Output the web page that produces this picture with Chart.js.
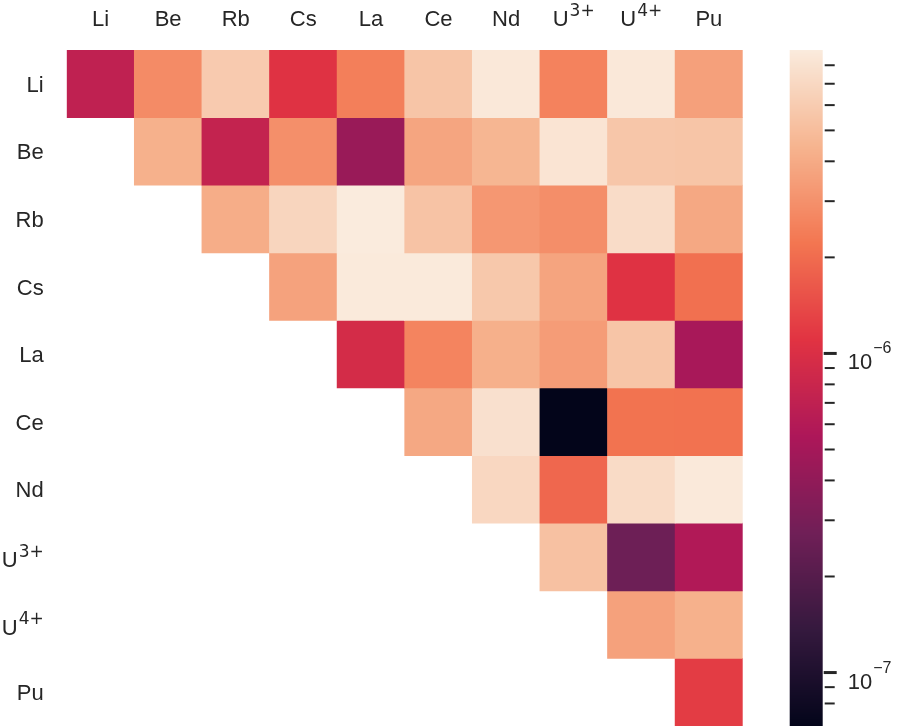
<!DOCTYPE html>
<html>
<head>
<meta charset="utf-8">
<script src="https://cdn.jsdelivr.net/npm/chart.js@4"></script>
<style>
  html, body { margin: 0; padding: 0; background: #fff; }
  #wrap { width: 897px; height: 726px; }
</style>
</head>
<body>
<div id="wrap"><canvas id="heat"></canvas></div>
<script>
// labels: base text + superscript part
const colLabels = ['Li', 'Be', 'Rb', 'Cs', 'La', 'Ce', 'Nd', 'U', 'U', 'Pu'];
const colSups = ['', '', '', '', '', '', '', '3+', '4+', ''];
const rowLabels = ['Li', 'Be', 'Rb', 'Cs', 'La', 'Ce', 'Nd', 'U', 'U', 'Pu'];
const rowSups = ['', '', '', '', '', '', '', '3+', '4+', ''];

// upper triangle, every row starts on the diagonal
const rowLi = [7.0e-7, 2.8e-6, 5.9e-6, 1.07e-6, 2.45e-6, 5.5e-6, 8.6e-6, 2.55e-6, 8.6e-6, 3.55e-6];
const rowBe = [4.3e-6, 7.4e-7, 2.95e-6, 4.4e-7, 3.75e-6, 4.55e-6, 8.2e-6, 5.6e-6, 5.5e-6];
const rowRb = [4.1e-6, 6.8e-6, 8.93e-6, 5.4e-6, 3.2e-6, 2.9e-6, 7.4e-6, 3.9e-6];
const rowCs = [3.65e-6, 8.8e-6, 8.8e-6, 5.7e-6, 3.7e-6, 1.08e-6, 2.08e-6];
const rowLa = [9.2e-7, 2.6e-6, 4.25e-6, 3.4e-6, 5.5e-6, 5.2e-7];
const rowCe = [3.9e-6, 7.8e-6, 6.8e-8, 2.15e-6, 2.12e-6];
const rowNd = [6.95e-6, 1.9e-6, 7.3e-6, 8.7e-6];
const rowU3 = [5.25e-6, 2.65e-7, 5.8e-7];
const rowU4 = [3.6e-6, 4.3e-6];
const rowPu = [1.21e-6];

// colourbar labels (major decades only)
const cbMajorValues = [1e-7, 1e-6];
const cbMajorBase = ['10', '10'];
const cbMajorExp = ['−7', '−6'];

const rows = [rowLi, rowBe, rowRb, rowCs, rowLa, rowCe, rowNd, rowU3, rowU4, rowPu];
const allVals = rows.flat();
const vmin = Math.min(...allVals);
const vmax = Math.max(...allVals);

// seaborn "rocket", sampled
const rocketStops = [
  [0, '#03051a'], [1 / 7, '#35193e'], [2 / 7, '#701f57'], [3 / 7, '#ad1759'],
  [4 / 7, '#e13342'], [5 / 7, '#f37651'], [6 / 7, '#f6b48f'], [1, '#faebdd'],
];
const hexRgb = (h) => [1, 3, 5].map((i) => parseInt(h.slice(i, i + 2), 16));

function rocket(t) {
  t = Math.max(0, Math.min(1, t));
  for (let k = 1; k < rocketStops.length; k++) {
    const [t1, c1] = rocketStops[k];
    if (t <= t1) {
      const [t0, c0] = rocketStops[k - 1];
      const f = (t - t0) / (t1 - t0);
      const a = hexRgb(c0), b = hexRgb(c1);
      const c = a.map((v, i) => Math.round(v + (b[i] - v) * f));
      return `rgb(${c[0]},${c[1]},${c[2]})`;
    }
  }
  return rocketStops[rocketStops.length - 1][1];
}

const norm = (v) => (Math.log10(v) - Math.log10(vmin)) / (Math.log10(vmax) - Math.log10(vmin));

const textColor = '#262626';
const baseFont = '22px "Liberation Sans", Arial, sans-serif';
const supFont = '17px "DejaVu Sans", sans-serif';

const datasets = rows.map((vals, i) => {
  const data = colLabels.map((c, j) => (j >= i ? [i, i + 1] : null));
  const colors = colLabels.map((c, j) => (j >= i ? rocket(norm(vals[j - i])) : 'rgba(0,0,0,0)'));
  return {
    label: rowLabels[i] + rowSups[i],
    data,
    backgroundColor: colors,
    borderWidth: 0,
    barPercentage: 1,
    categoryPercentage: 1,
    grouped: false,
    xAxisID: 'x',
    yAxisID: 'y',
  };
});

// text with an optional superscript; x is the left edge
function drawLabel(ctx, base, sup, x, y) {
  ctx.font = baseFont;
  ctx.fillText(base, x, y);
  if (!sup) return;
  const bw = ctx.measureText(base).width;
  ctx.font = supFont;
  ctx.fillText(sup, x + bw + 1, y - 10.5);
}
function labelWidth(ctx, base, sup) {
  ctx.font = baseFont;
  let w = ctx.measureText(base).width;
  if (sup) {
    ctx.font = supFont;
    w += 1 + ctx.measureText(sup).width;
  }
  return w;
}

// category labels on top and left, placed from the scales
const axisLabelPlugin = {
  id: 'axisLabels',
  afterDraw(chart) {
    const { ctx, chartArea } = chart;
    const xs = chart.scales.x, ys = chart.scales.y;
    ctx.save();
    ctx.fillStyle = textColor;
    ctx.textBaseline = 'alphabetic';
    ctx.textAlign = 'left';
    colLabels.forEach((lab, i) => {
      const cx = xs.getPixelForTick(i);
      const w = labelWidth(ctx, lab, colSups[i]);
      drawLabel(ctx, lab, colSups[i], cx - w / 2, chartArea.top - 24);
    });
    rowLabels.forEach((lab, i) => {
      const cy = ys.getPixelForTick(i);
      const w = labelWidth(ctx, lab, rowSups[i]);
      const yb = rowSups[i] ? cy + 10 : cy + 8;
      drawLabel(ctx, lab, rowSups[i], chartArea.left - 23 - w, yb);
    });
    ctx.restore();
  },
};

// draws the colourbar strip, its ticks and labels from the 'cb' log scale
const colorbarPlugin = {
  id: 'colorbar',
  afterDraw(chart) {
    const cb = chart.scales.cb;
    const ctx = chart.ctx;
    const x0 = chart.chartArea.right + 47;
    const w = 33;
    ctx.save();
    for (let y = Math.floor(cb.top); y < Math.ceil(cb.bottom); y++) {
      const v = cb.getValueForPixel(y + 0.5);
      ctx.fillStyle = rocket(norm(v));
      ctx.fillRect(x0, y, w, 1);
    }
    // ticks
    ctx.strokeStyle = textColor;
    cb.ticks.forEach((tk) => {
      const v = tk.value;
      const m = v / Math.pow(10, Math.floor(Math.log10(v) + 1e-9));
      if (Math.abs(m - Math.round(m)) > 1e-6) return;
      const y = cb.getPixelForValue(v);
      const major = Math.round(m) === 1;
      ctx.lineWidth = major ? 3 : 2;
      ctx.beginPath();
      ctx.moveTo(x0 + w + (major ? 1 : 2), y);
      ctx.lineTo(x0 + w + (major ? 14 : 12), y);
      ctx.stroke();
    });
    // labels
    ctx.fillStyle = textColor;
    ctx.textBaseline = 'alphabetic';
    cbMajorValues.forEach((v, i) => {
      const y = cb.getPixelForValue(v);
      ctx.font = baseFont;
      ctx.fillText(cbMajorBase[i], x0 + w + 25, y + 16);
      const bw = ctx.measureText(cbMajorBase[i]).width;
      ctx.font = '16px "Liberation Sans", Arial, sans-serif';
      ctx.fillText(cbMajorExp[i], x0 + w + 25 + bw + 1, y);
    });
    ctx.restore();
  },
};

const noPad = (s) => { s.paddingTop = 0; s.paddingBottom = 0; s.paddingLeft = 0; s.paddingRight = 0; };

new Chart(document.getElementById('heat'), {
  type: 'bar',
  data: { labels: colLabels.map((c, i) => c + colSups[i]), datasets },
  options: {
    responsive: true,
    maintainAspectRatio: false,
    animation: false,
    events: [],
    layout: { padding: 0 },
    plugins: { legend: { display: false }, tooltip: { enabled: false } },
    scales: {
      x: {
        type: 'category',
        position: 'top',
        grid: { display: false, drawTicks: false },
        border: { display: false },
        ticks: { display: false, autoSkip: false },
        afterFit: (s) => { s.height = 50; noPad(s); },
      },
      y: {
        type: 'linear',
        min: 0,
        max: 10,
        reverse: true,
        grid: { display: false, drawTicks: false },
        border: { display: false },
        afterBuildTicks: (s) => { s.ticks = rowLabels.map((r, i) => ({ value: i + 0.5 })); },
        ticks: { display: false, autoSkip: false },
        afterFit: (s) => { s.width = 66.7; noPad(s); },
      },
      cb: {
        type: 'logarithmic',
        position: 'right',
        min: vmin,
        max: vmax,
        grid: { display: false, drawTicks: false },
        border: { display: false },
        ticks: { display: false },
        afterFit: (s) => { s.width = 897 - 742.7; noPad(s); },
      },
    },
  },
  plugins: [axisLabelPlugin, colorbarPlugin],
});
</script>
</body>
</html>
